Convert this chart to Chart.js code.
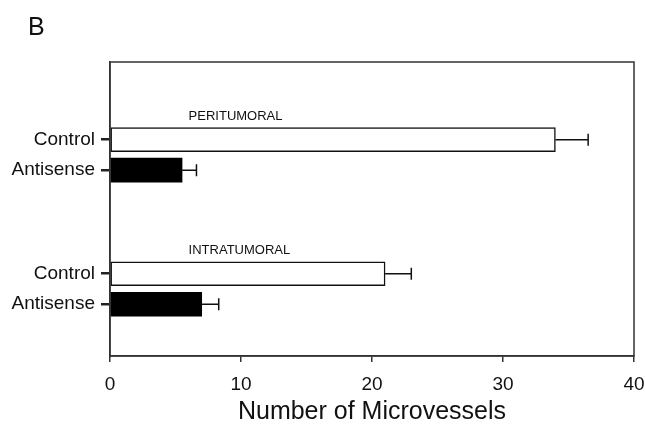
<!DOCTYPE html>
<html>
<head>
<meta charset="utf-8">
<script src="https://cdn.jsdelivr.net/npm/chart.js@4"></script>
<style>
  html, body { margin: 0; padding: 0; background: #fff; }
  #wrap { width: 645px; height: 434px; }
</style>
</head>
<body>
<div id="wrap"><canvas id="chart"></canvas></div>
<script>
// data
const groups = ['PERITUMORAL', 'INTRATUMORAL'];
const controlVals = [34, 21];
const controlErr = [2.5, 2.0];
const antisenseVals = [5.5, 7.0];
const antisenseErr = [1.1, 1.3];
// row slots along the y axis (control row, antisense row per group)
const controlRows = [2.5, 6.9];
const antisenseRows = [3.5, 7.9];
const xTicks = [0, 10, 20, 30, 40];

const FONT = '"Liberation Sans", Arial, sans-serif';
const INK = '#111';

const rowLabels = {};
controlRows.forEach(r => rowLabels[r] = 'Control');
antisenseRows.forEach(r => rowLabels[r] = 'Antisense');

// box, panel letter, group names, error bars
const extras = {
  id: 'extras',
  afterDatasetsDraw(chart) {
    const { ctx, chartArea: a, scales: { x, y } } = chart;
    ctx.save();

    // error bars
    ctx.strokeStyle = INK;
    ctx.lineWidth = 1.5;
    const err = (vals, errs, rows) => {
      vals.forEach((v, i) => {
        const x0 = x.getPixelForValue(v);
        const x1 = x.getPixelForValue(v + errs[i]);
        const yc = y.getPixelForValue(rows[i]);
        ctx.beginPath();
        ctx.moveTo(x0, yc); ctx.lineTo(x1, yc);
        ctx.moveTo(x1, yc - 6); ctx.lineTo(x1, yc + 6);
        ctx.stroke();
      });
    };
    err(controlVals, controlErr, controlRows);
    err(antisenseVals, antisenseErr, antisenseRows);

    // frame
    ctx.lineWidth = 1.5;
    ctx.strokeStyle = '#333';
    ctx.strokeRect(a.left, a.top, a.right - a.left, a.bottom - a.top);

    // group names above the control bars
    ctx.fillStyle = INK;
    ctx.font = '13px ' + FONT;
    ctx.textBaseline = 'middle';
    ctx.textAlign = 'left';
    groups.forEach((g, i) => {
      const yc = y.getPixelForValue(controlRows[i]);
      ctx.fillText(g, x.getPixelForValue(6), yc - 23);
    });

    // panel letter
    ctx.font = '25px ' + FONT;
    ctx.textBaseline = 'top';
    ctx.fillText('B', 28, 16);
    ctx.restore();
  }
};

new Chart(document.getElementById('chart'), {
  type: 'bar',
  data: {
    datasets: [
      {
        label: 'Control',
        data: controlVals.map((v, i) => ({ x: v, y: controlRows[i] })),
        backgroundColor: '#ffffff',
        borderColor: INK,
        borderWidth: 1.5,
        borderSkipped: false,
        barThickness: 24,
        grouped: false
      },
      {
        label: 'Antisense',
        data: antisenseVals.map((v, i) => ({ x: v, y: antisenseRows[i] })),
        backgroundColor: '#000000',
        borderColor: '#000000',
        borderWidth: 0,
        barThickness: 24,
        grouped: false
      }
    ]
  },
  options: {
    indexAxis: 'y',
    responsive: true,
    maintainAspectRatio: false,
    animation: false,
    layout: { padding: { top: 62, right: 0, left: 0, bottom: 0 } },
    plugins: { legend: { display: false }, tooltip: { enabled: false } },
    scales: {
      x: {
        type: 'linear',
        min: 0,
        max: 40,
        afterBuildTicks: s => { s.ticks = xTicks.map(v => ({ value: v })); },
        afterFit: s => { s.height = 78; s.paddingRight = 11; s.paddingLeft = 0; },
        grid: { drawOnChartArea: false, tickLength: 6, color: '#333', lineWidth: 1.5 },
        border: { color: '#333', width: 1.5 },
        ticks: { color: INK, font: { family: FONT, size: 19 }, padding: 11 },
        title: {
          display: true,
          text: 'Number of Microvessels',
          color: INK,
          font: { family: FONT, size: 25 },
          padding: { top: 0, bottom: 7 }
        }
      },
      y: {
        type: 'linear',
        reverse: true,
        offset: false,
        min: -0.05,
        max: 9.6,
        afterBuildTicks: s => {
          s.ticks = controlRows.concat(antisenseRows).sort((a, b) => a - b).map(v => ({ value: v }));
        },
        afterFit: s => { s.width = 110; },
        grid: { drawOnChartArea: false, offset: false, tickLength: 9, color: '#222', lineWidth: 2.5 },
        border: { color: '#333', width: 1.5 },
        ticks: {
          color: INK,
          font: { family: FONT, size: 19 },
          padding: 6,
          callback: v => rowLabels[v] || ''
        }
      }
    }
  },
  plugins: [extras]
});
</script>
</body>
</html>
